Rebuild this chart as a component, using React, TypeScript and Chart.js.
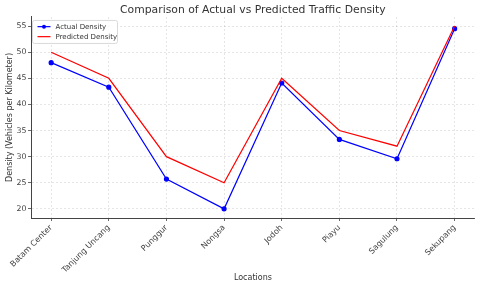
import React, { useEffect, useRef } from "react";
import { Chart, registerables } from "chart.js";

Chart.register(...registerables);

const categories = ["Batam Center", "Tanjung Uncang", "Punggur", "Nongsa", "Jodoh", "Piayu", "Sagulung", "Sekupang"];
const actualDensity = [48, 43.3, 25.7, 20, 44.1, 33.3, 29.6, 54.5];
const predictedDensity = [50, 45, 30, 25, 45, 35, 32, 55];
const yTickValues = [20, 25, 30, 35, 40, 45, 50, 55];
const seriesNames = ["Actual Density", "Predicted Density"];
const seriesColors = ["#0000ff", "#ff0000"];

const FONT = "'DejaVu Sans', sans-serif";

const legendPlugin = {
  id: "insideLegend",
  afterDraw(chart: any) {
    const { ctx, chartArea } = chart;
    const x = chartArea.left + 1.5;
    const y = chartArea.top + 3.5;
    const w = 85;
    const h = 23;
    ctx.save();
    ctx.beginPath();
    const r = 2;
    ctx.moveTo(x + r, y);
    ctx.arcTo(x + w, y, x + w, y + h, r);
    ctx.arcTo(x + w, y + h, x, y + h, r);
    ctx.arcTo(x, y + h, x, y, r);
    ctx.arcTo(x, y, x + w, y, r);
    ctx.closePath();
    ctx.fillStyle = "rgba(255,255,255,0.85)";
    ctx.fill();
    ctx.strokeStyle = "#d0d0d0";
    ctx.lineWidth = 0.8;
    ctx.stroke();
    chart.data.datasets.forEach((ds: any, i: number) => {
      const ly = y + 6.2 + i * 10;
      ctx.beginPath();
      ctx.strokeStyle = ds.borderColor;
      ctx.lineWidth = 1.2;
      ctx.moveTo(x + 5, ly);
      ctx.lineTo(x + 18, ly);
      ctx.stroke();
      if (ds.pointRadius > 0) {
        ctx.beginPath();
        ctx.fillStyle = ds.borderColor;
        ctx.arc(x + 11.5, ly, 2, 0, Math.PI * 2);
        ctx.fill();
      }
      ctx.fillStyle = "#333";
      ctx.font = `7px ${FONT}`;
      ctx.textBaseline = "middle";
      ctx.textAlign = "left";
      ctx.fillText(ds.label, x + 23, ly + 0.5);
    });
    ctx.restore();
  },
};

export default function App() {
  const canvasRef = useRef<HTMLCanvasElement | null>(null);

  useEffect(() => {
    document.body.style.margin = "0";
    const canvas = canvasRef.current;
    if (!canvas) return;
    const chart = new Chart(canvas, {
      type: "line",
      data: {
        datasets: [
          {
            label: seriesNames[0],
            data: actualDensity.map((v, i) => ({ x: i, y: v })),
            borderColor: seriesColors[0],
            backgroundColor: seriesColors[0],
            pointBackgroundColor: seriesColors[0],
            pointBorderColor: seriesColors[0],
            pointRadius: 2,
            borderWidth: 1.2,
            tension: 0,
            order: 2,
          },
          {
            label: seriesNames[1],
            data: predictedDensity.map((v, i) => ({ x: i, y: v })),
            borderColor: seriesColors[1],
            backgroundColor: seriesColors[1],
            pointRadius: 0,
            borderWidth: 1.2,
            tension: 0,
            order: 1,
          },
        ],
      },
      options: {
        responsive: false,
        animation: false,
        layout: { padding: { left: 0, right: 4, top: 0, bottom: 0 } },
        plugins: {
          legend: { display: false },
          tooltip: { enabled: false },
          title: {
            display: true,
            fullSize: false,
            text: "Comparison of Actual vs Predicted Traffic Density",
            color: "#333",
            font: { family: FONT, size: 10.8, weight: "normal", lineHeight: 1.2 },
            padding: { top: 4, bottom: 0 },
          },
        },
        scales: {
          x: {
            type: "linear",
            min: -0.35,
            max: 7.35,
            afterBuildTicks: (scale: any) => {
              scale.ticks = categories.map((_, i) => ({ value: i }));
            },
            afterFit: (scale: any) => {
              scale.height = 70;
              scale.paddingLeft = 0;
              scale.paddingRight = 0;
            },
            ticks: {
              autoSkip: false,
              maxRotation: 45,
              minRotation: 45,
              padding: 2,
              color: "#444",
              font: { family: FONT, size: 8 },
              callback: (v: any) => categories[v as number] ?? "",
            },
            grid: {
              color: "rgba(0,0,0,0.13)",
              lineWidth: 0.8,
              tickLength: 3,
              tickColor: "#444",
              tickWidth: 0.8,
            },
            border: { display: true, color: "#444", width: 1, dash: [2, 2] },
            title: {
              display: true,
              text: "Locations",
              color: "#333",
              font: { family: FONT, size: 8 },
              padding: { top: 0, bottom: 5.2 },
            },
          },
          y: {
            type: "linear",
            min: 18.25,
            max: 56.75,
            afterBuildTicks: (scale: any) => {
              scale.ticks = yTickValues.map((v) => ({ value: v }));
            },
            afterFit: (scale: any) => {
              scale.width = 31;
            },
            ticks: {
              padding: 1.5,
              color: "#444",
              font: { family: FONT, size: 7.8 },
            },
            grid: {
              color: "rgba(0,0,0,0.13)",
              lineWidth: 0.8,
              tickLength: 3,
              tickColor: "#444",
              tickWidth: 0.8,
            },
            border: { display: true, color: "#444", width: 1, dash: [2, 2] },
            title: {
              display: true,
              text: "Density (Vehicles per Kilometer)",
              color: "#333",
              font: { family: FONT, size: 8 },
              padding: { top: 5.6, bottom: 0 },
            },
          },
        },
      },
      plugins: [legendPlugin],
    } as any);
    return () => chart.destroy();
  }, []);

  return <canvas ref={canvasRef} width={480} height={288} style={{ display: "block" }} />;
}
